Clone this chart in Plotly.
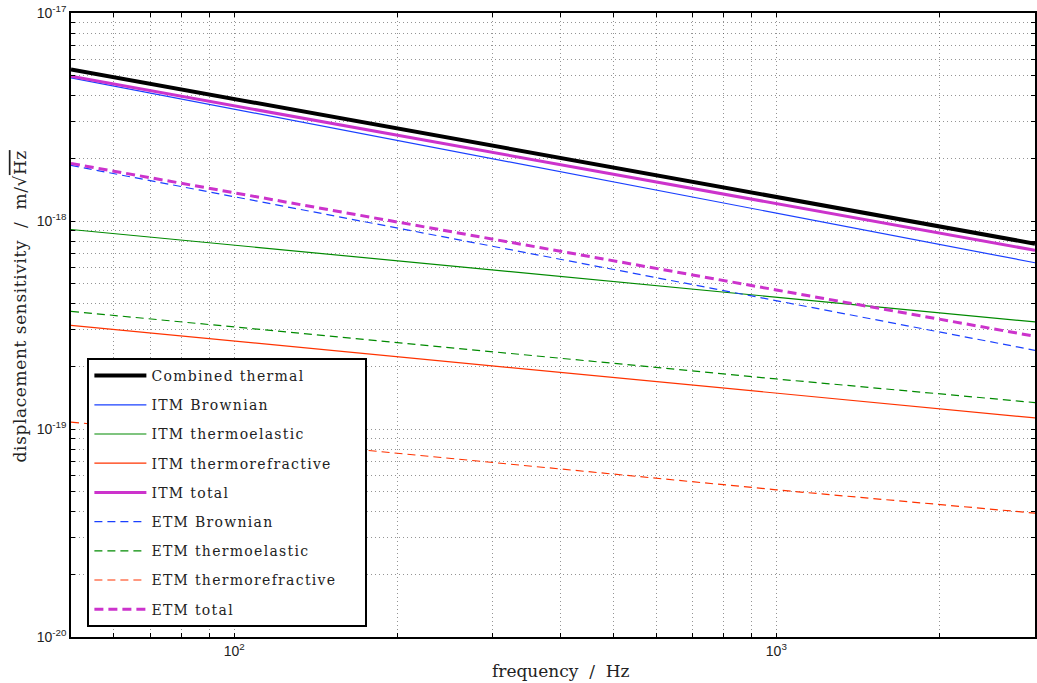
import plotly.graph_objects as go

# ---- data ----
freq = [50, 100, 1000, 3000]

combined_thermal = [5.35e-18, 3.86e-18, 1.31e-18, 7.78e-19]
itm_brownian = [4.88e-18, 3.45e-18, 1.09e-18, 6.30e-19]
itm_thermoelastic = [9.1e-19, 7.65e-19, 4.30e-19, 3.27e-19]
itm_thermorefractive = [3.15e-19, 2.65e-19, 1.49e-19, 1.13e-19]
itm_total = [4.96e-18, 3.58e-18, 1.21e-18, 7.23e-19]
etm_brownian = [1.85e-18, 1.31e-18, 4.14e-19, 2.39e-19]
etm_thermoelastic = [3.68e-19, 3.10e-19, 1.74e-19, 1.34e-19]
etm_thermorefractive = [1.08e-19, 9.1e-20, 5.1e-20, 3.94e-20]
etm_total = [1.89e-18, 1.365e-18, 4.66e-19, 2.79e-19]

series = [
    ("Combined thermal", combined_thermal, "#000000", 4, "solid"),
    ("ITM Brownian", itm_brownian, "#1a40ff", 1.2, "solid"),
    ("ITM thermoelastic", itm_thermoelastic, "#008a00", 1.2, "solid"),
    ("ITM thermorefractive", itm_thermorefractive, "#ff3300", 1.2, "solid"),
    ("ITM total", itm_total, "#cc33cc", 3, "solid"),
    ("ETM Brownian", etm_brownian, "#1a40ff", 1.2, "8px,5px"),
    ("ETM thermoelastic", etm_thermoelastic, "#008a00", 1.2, "8px,5px"),
    ("ETM thermorefractive", etm_thermorefractive, "#ff3300", 1.2, "8px,5px"),
    ("ETM total", etm_total, "#cc33cc", 3, "9px,5px"),
]

x_tickvals = [50, 60, 70, 80, 90, 100, 200, 300, 400, 500, 600, 700, 800, 900, 1000, 2000, 3000]
x_ticktext = ["" if v not in (100, 1000) else ("10<sup>2</sup>" if v == 100 else "10<sup>3</sup>") for v in x_tickvals]

y_tickvals = []
y_ticktext = []
for e in (-20, -19, -18):
    for m in range(1, 10):
        y_tickvals.append(m * 10.0 ** e)
        y_ticktext.append(f"10<sup>{e}</sup>" if m == 1 else "")
y_tickvals.append(1e-17)
y_ticktext.append("10<sup>-17</sup>")

longest = max(len(s[0]) for s in series)

fig = go.Figure()
for i, (name, vals, color, width, dash) in enumerate(series):
    pad = "\u00a0" * 4 if len(name) == longest else ""
    fig.add_trace(go.Scatter(
        x=freq, y=vals, mode="lines",
        name=f"<span style='letter-spacing:1.3px'>{name}{pad}</span>",
        legendgroup=f"g{i}",
        line=dict(color=color, width=width, dash=dash),
    ))

serif = "DejaVu Serif"
axis_common = dict(
    type="log",
    showline=True, linecolor="black", linewidth=1.5, mirror="ticks",
    ticks="inside", ticklen=4, tickcolor="black", tickwidth=1,
    showgrid=True, gridcolor="rgba(60,60,60,0.55)", griddash="1px,3px", gridwidth=1,
    zeroline=False,
    tickfont=dict(family="Liberation Sans", size=14, color="#222"),
)

fig.update_layout(
    width=1037, height=683,
    margin=dict(l=71, r=0, t=13, b=46),
    paper_bgcolor="white", plot_bgcolor="white",
    showlegend=True,
    legend=dict(
        x=0.017, y=0.016, xanchor="left", yanchor="bottom",
        bgcolor="white", bordercolor="black", borderwidth=2,
        font=dict(family=serif, size=14, color="#222"),
        traceorder="grouped", tracegroupgap=8,
        itemwidth=52,
    ),
    xaxis=dict(
        **axis_common,
        range=[1.69897, 3.4771213],
        tickvals=x_tickvals, ticktext=x_ticktext,
    ),
    yaxis=dict(
        **axis_common,
        range=[-20, -17],
        tickvals=y_tickvals, ticktext=y_ticktext,
    ),
    annotations=[
        dict(
            text="frequency  /  Hz", xref="paper", yref="paper",
            x=0.508, y=-0.0545, xanchor="center", yanchor="middle", showarrow=False,
            font=dict(family=serif, size=17, color="#222"),
        ),
        dict(
            text="<span style='letter-spacing:0.6px'>displacement sensitivity  /  m/√<span style='text-decoration:overline'>Hz</span></span>",
            xref="paper", yref="paper", x=-0.0528, y=0.530, textangle=-90,
            xanchor="center", yanchor="middle", showarrow=False,
            font=dict(family=serif, size=17, color="#222"),
        ),
    ],
)

fig.write_html(
    "out.html",
    config={"displayModeBar": False},
    post_script="document.body.style.margin='0';document.body.style.overflow='hidden';",
)
